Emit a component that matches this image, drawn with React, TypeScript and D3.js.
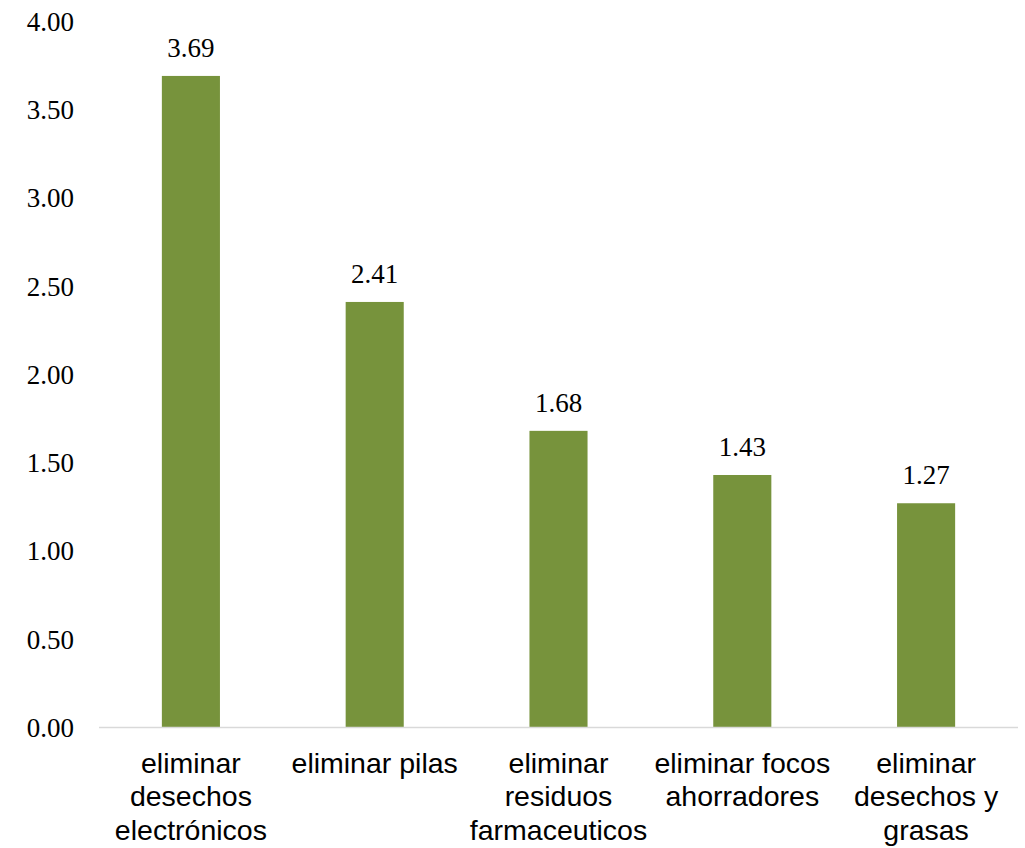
import React, { useEffect, useRef } from "react";
import * as d3 from "d3";

const categories: string[] = [
  "eliminar desechos electrónicos",
  "eliminar pilas",
  "eliminar residuos farmaceuticos",
  "eliminar focos ahorradores",
  "eliminar desechos y grasas",
];
const values: number[] = [3.69, 2.41, 1.68, 1.43, 1.27];
const yTicks: number[] = [0, 0.5, 1, 1.5, 2, 2.5, 3, 3.5, 4];

const W = 1025;
const H = 848;
const M = { left: 99, right: 7, top: 21.2, bottom: 120.5 };

export default function App() {
  const ref = useRef<SVGSVGElement>(null);
  useEffect(() => {
    const svg = d3.select(ref.current);
    svg.selectAll("*").remove();
    const x = d3
      .scaleBand<string>()
      .domain(categories)
      .range([M.left, W - M.right])
      .paddingInner(0.684)
      .paddingOuter(0.342);
    const y = d3.scaleLinear().domain([0, 4]).range([H - M.bottom, M.top]);

    svg
      .append("g")
      .selectAll("text")
      .data(yTicks)
      .join("text")
      .attr("x", 74)
      .attr("y", (d) => y(d))
      .attr("dy", "0.35em")
      .attr("text-anchor", "end")
      .attr("font-family", "'Liberation Serif', 'Times New Roman', serif")
      .attr("font-size", 27)
      .attr("fill", "#000")
      .text((d) => d3.format(".2f")(d));

    svg
      .append("g")
      .selectAll("rect")
      .data(values)
      .join("rect")
      .attr("x", (_, i) => x(categories[i])!)
      .attr("width", x.bandwidth())
      .attr("y", (d) => y(d))
      .attr("height", (d) => y(0) - y(d))
      .attr("fill", "#77933C");

    svg
      .append("line")
      .attr("x1", M.left)
      .attr("x2", W - M.right)
      .attr("y1", y(0))
      .attr("y2", y(0))
      .attr("stroke", "#d9d9d9")
      .attr("stroke-width", 1.5);

    svg
      .append("g")
      .selectAll("text")
      .data(values)
      .join("text")
      .attr("x", (_, i) => x(categories[i])! + x.bandwidth() / 2)
      .attr("y", (d) => y(d) - 19)
      .attr("text-anchor", "middle")
      .attr("font-family", "'Liberation Serif', 'Times New Roman', serif")
      .attr("font-size", 27)
      .attr("fill", "#000")
      .text((d) => d3.format(".2f")(d));

    const maxW = x.step();
    const g = svg.append("g");
    categories.forEach((c, i) => {
      const cx = x(c)! + x.bandwidth() / 2;
      const t = g
        .append("text")
        .attr("text-anchor", "middle")
        .attr("font-family", "'Liberation Sans', Arial, sans-serif")
        .attr("font-size", 28.5)
        .attr("fill", "#000");
      const words = c.split(" ");
      const lines: string[] = [];
      let cur: string[] = [];
      const probe = t.append("tspan");
      words.forEach((w) => {
        const test = [...cur, w].join(" ");
        probe.text(test);
        const len = (probe.node() as SVGTSpanElement).getComputedTextLength();
        if (len > maxW && cur.length) {
          lines.push(cur.join(" "));
          cur = [w];
        } else cur.push(w);
      });
      if (cur.length) lines.push(cur.join(" "));
      probe.remove();
      lines.forEach((ln, k) => {
        t.append("tspan")
          .attr("x", cx)
          .attr("y", y(0) + 45 + k * 33.5)
          .text(ln);
      });
    });
  }, []);
  return (
    <svg
      ref={ref}
      width={W}
      height={H}
      style={{ position: "absolute", left: 0, top: 0, background: "#fff" }}
    />
  );
}
